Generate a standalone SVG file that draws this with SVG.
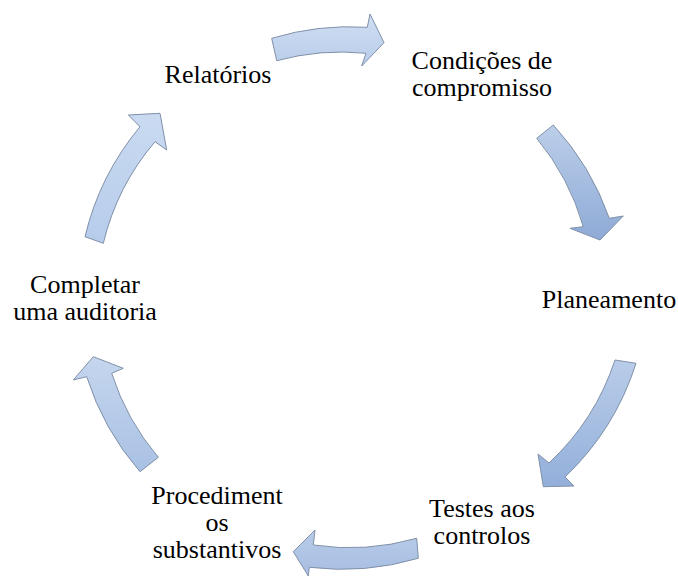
<svg xmlns="http://www.w3.org/2000/svg" width="678" height="578" viewBox="0 0 678 578">
<style>
.lbl{font-family:"Liberation Serif","Times New Roman",serif;font-size:26px;fill:#000;text-anchor:middle}
.arr{stroke:#7f90a8;stroke-width:1;stroke-linejoin:round}
</style>
<defs>
<linearGradient id="g1" x1="0" y1="0" x2="0" y2="1"><stop offset="0" stop-color="#cfdef2"/><stop offset="1" stop-color="#b9cdea"/></linearGradient>
<linearGradient id="g2" x1="0" y1="0" x2="0" y2="1"><stop offset="0" stop-color="#bccfea"/><stop offset="1" stop-color="#8eaad6"/></linearGradient>
<linearGradient id="g3" x1="0" y1="0" x2="0" y2="1"><stop offset="0" stop-color="#b9cde9"/><stop offset="1" stop-color="#93afda"/></linearGradient>
<linearGradient id="g4" x1="0" y1="0" x2="0" y2="1"><stop offset="0" stop-color="#b9cce8"/><stop offset="1" stop-color="#a6bee3"/></linearGradient>
<linearGradient id="g5" x1="0" y1="0" x2="0" y2="1"><stop offset="0" stop-color="#c5d6ee"/><stop offset="1" stop-color="#a9c1e4"/></linearGradient>
<linearGradient id="g6" x1="0" y1="0" x2="0" y2="1"><stop offset="0" stop-color="#cadbf1"/><stop offset="1" stop-color="#b6cceb"/></linearGradient>
</defs>
<rect width="678" height="578" fill="#fff"/>
<g id="connectors">
<path class="arr" fill="url(#g1)" d="M271.7,38.3 A269,269 0 0 1 367.3,27.3 L370,14 L384,42.7 L361.7,66 L366,53.3 A245,245 0 0 0 276.7,60.7 Z"/>
<path class="arr" fill="url(#g2)" d="M553.3,125 A269,269 0 0 1 609.3,218.3 L623.3,216 L600,240 L570,228.3 L583.3,226.7 A245,245 0 0 0 536.7,138.3 Z"/>
<path class="arr" fill="url(#g3)" d="M636,363.3 A269,269 0 0 1 565,477 L574,486 L543.3,486.7 L538,454 L549,463 A245,245 0 0 0 615,360 Z"/>
<path class="arr" fill="url(#g4)" d="M418.3,558.3 A269,269 0 0 1 309.3,567.3 L308.3,576 L293.3,551.7 L315,530 L313.3,545 A245,245 0 0 0 416.7,538.3 Z"/>
<path class="arr" fill="url(#g5)" d="M140,471.7 A269,269 0 0 1 86.7,376.7 L73.3,380 L93.3,356.7 L123.3,368.3 L111.7,373.3 A245,245 0 0 0 158.3,457.3 Z"/>
<path class="arr" fill="url(#g6)" d="M85,236.7 A269,269 0 0 1 140,126.7 L128.3,115 L160,113.3 L166.7,150 L155,141.7 A245,245 0 0 0 103.3,243.3 Z"/>
</g>
<g id="node-relatorios"><text class="lbl" x="218" y="83">Relatórios</text></g>
<g id="node-condicoes"><text class="lbl" x="482" y="69">Condições de</text><text class="lbl" x="482" y="96">compromisso</text></g>
<g id="node-planeamento"><text class="lbl" x="609" y="308">Planeamento</text></g>
<g id="node-testes"><text class="lbl" x="482" y="517">Testes aos</text><text class="lbl" x="482" y="544">controlos</text></g>
<g id="node-procedimentos"><text class="lbl" x="217" y="504">Procediment</text><text class="lbl" x="217" y="531">os</text><text class="lbl" x="217" y="558">substantivos</text></g>
<g id="node-completar"><text class="lbl" x="85" y="293">Completar</text><text class="lbl" x="85" y="320">uma auditoria</text></g>
</svg>
